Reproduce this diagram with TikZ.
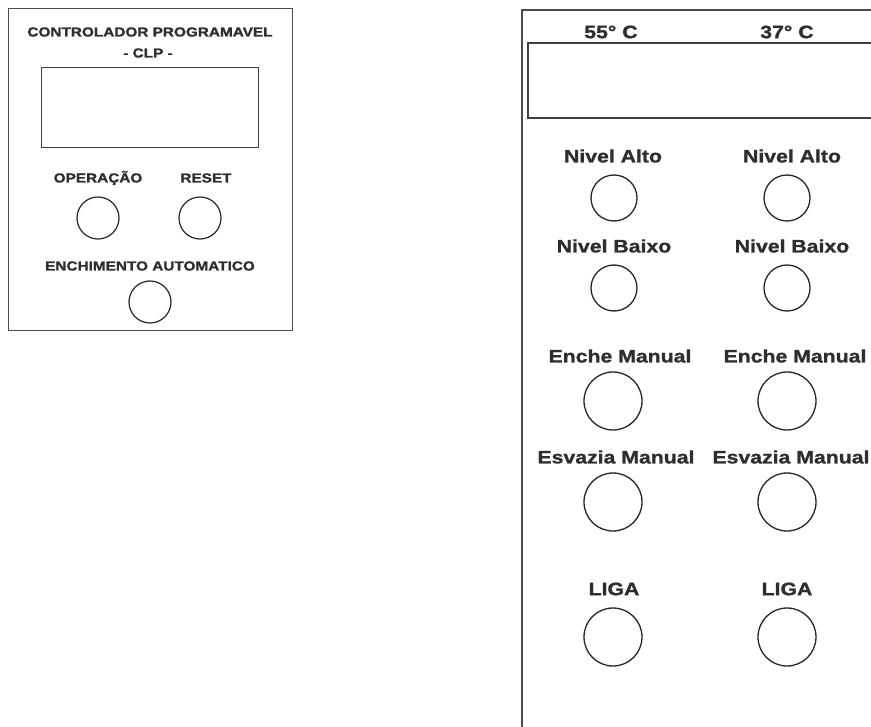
\documentclass[tikz,border=0pt]{standalone}
\usepackage{fontspec}
\setmainfont{Liberation Sans}[FakeStretch=1.18, BoldFeatures={FakeBold=1.2}]
\begin{document}
\begin{tikzpicture}[x=1pt,y=-1pt,
  lbl/.style={font=\bfseries\fontsize{13}{15}\selectfont, text=black!82, inner sep=0pt, anchor=center},
  biglbl/.style={font=\bfseries\fontsize{18}{20}\selectfont, text=black!82, inner sep=0pt, anchor=center},
  btn/.style={circle, draw=black!85, line width=1.2pt, inner sep=0pt, minimum size=42pt},
  sbtn/.style={circle, draw=black!85, line width=1.3pt, inner sep=0pt, minimum size=46pt},
  lbtn/.style={circle, draw=black!85, line width=1.3pt, inner sep=0pt, minimum size=58pt},
  panel/.style={draw=black!70, line width=1pt},
  rpanel/.style={draw=black!70, line width=1.8pt},
  disp/.style={draw=black!75, line width=1pt}]
\useasboundingbox (0,0) rectangle (871,727);
\clip (0,0) rectangle (871,727);
\fill[white] (0,0) rectangle (871,727);
% ---------- left panel ----------
\node[panel, rectangle, inner sep=0pt, minimum width=284pt, minimum height=322pt, anchor=north west] (clp) at (8,8) {};
\node[disp, rectangle, inner sep=0pt, minimum width=217pt, minimum height=80pt, anchor=north west] (clpdisp) at (41,67) {};
\node[lbl] (title) at (150,32) {CONTROLADOR PROGRAMAVEL};
\node[lbl] (sub) at (148,53) {- CLP -};
\node[lbl] (op) at (98,178) {OPERAÇÃO};
\node[lbl] (rs) at (206,178) {RESET};
\node[btn] (opb) at (98,218) {};
\node[btn] (rsb) at (200,218) {};
\node[lbl] (ea) at (150,266) {ENCHIMENTO AUTOMATICO};
\node[btn] (eab) at (150,302) {};
% ---------- right panel ----------
\coordinate (rtr) at (880,10);
\coordinate (rtl) at (522,10);
\coordinate (rbl) at (522,740);
\draw[rpanel] (rtr) -- (rtl) -- (rbl);
\coordinate (dtr) at (880,43);
\coordinate (dtl) at (528,43);
\coordinate (dbl) at (528,118);
\coordinate (dbr) at (880,118);
\draw[disp, line width=1.3pt] (dtr) -- (dtl) -- (dbl) -- (dbr);
\node[biglbl] (t1) at (611,32) {55° C};
\node[biglbl] (t2) at (787,32) {37° C};
\node[biglbl] (na1) at (613,156) {Nivel Alto};
\node[biglbl] (na2) at (792,156) {Nivel Alto};
\node[sbtn] (na1b) at (614,198) {};
\node[sbtn] (na2b) at (787,198) {};
\node[biglbl] (nb1) at (614,246) {Nivel Baixo};
\node[biglbl] (nb2) at (792,246) {Nivel Baixo};
\node[sbtn] (nb1b) at (614,288) {};
\node[sbtn] (nb2b) at (787,288) {};
\node[biglbl] (em1) at (620,356) {Enche Manual};
\node[biglbl] (em2) at (795,356) {Enche Manual};
\node[lbtn] (em1b) at (613,401) {};
\node[lbtn] (em2b) at (787,401) {};
\node[biglbl] (ev1) at (616,457) {Esvazia Manual};
\node[biglbl] (ev2) at (791,457) {Esvazia Manual};
\node[lbtn] (ev1b) at (613,502) {};
\node[lbtn] (ev2b) at (787,502) {};
\node[biglbl] (lg1) at (614,589) {LIGA};
\node[biglbl] (lg2) at (787,589) {LIGA};
\node[lbtn] (lg1b) at (613,637) {};
\node[lbtn] (lg2b) at (787,637) {};
\end{tikzpicture}
\end{document}
